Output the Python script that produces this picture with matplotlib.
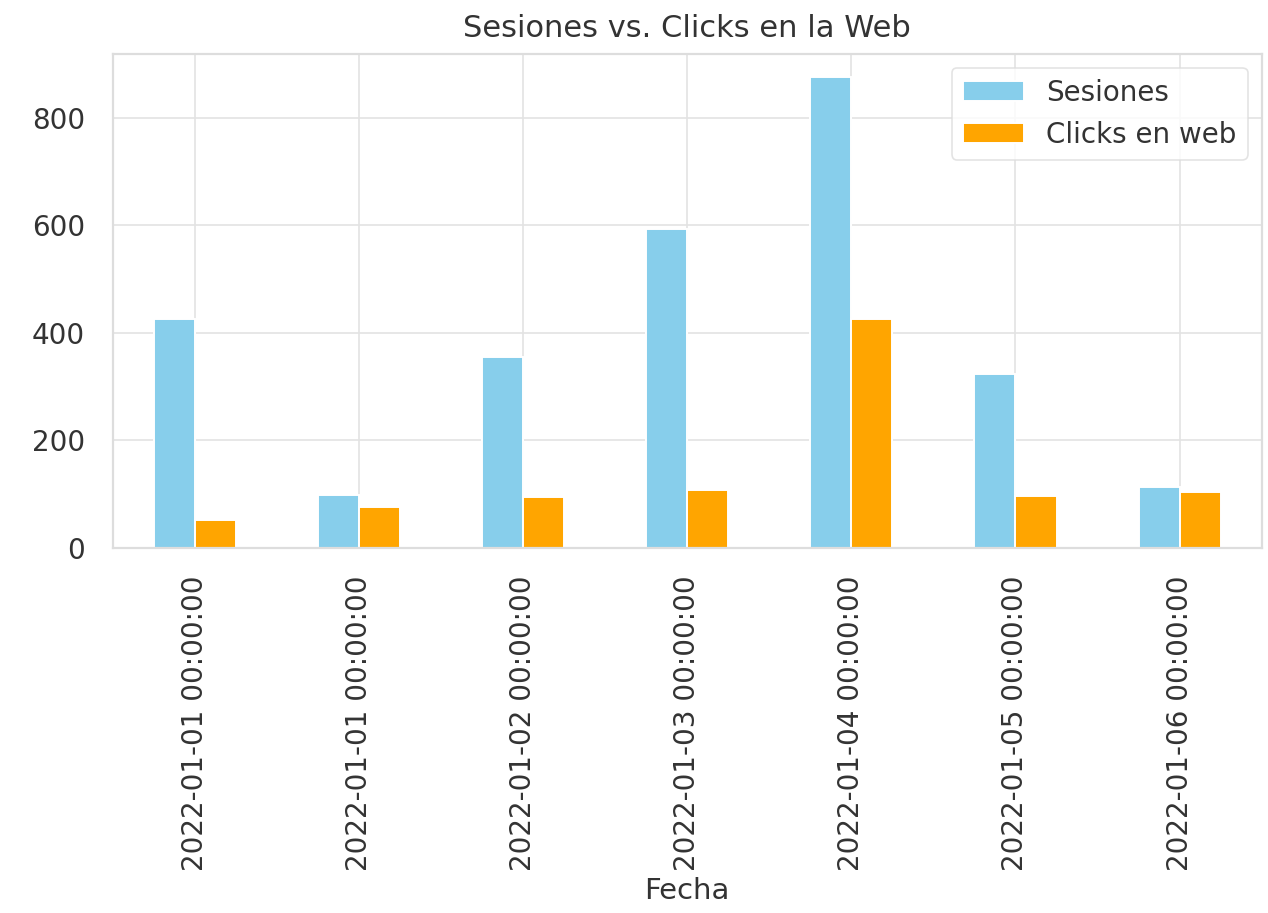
import matplotlib
matplotlib.use("Agg")
import matplotlib.pyplot as plt
import numpy as np
import seaborn as sns

sns.set_theme(style="whitegrid")
plt.rcParams['font.family'] = ['DejaVu Sans']

fechas = ["2022-01-01 00:00:00", "2022-01-01 00:00:00", "2022-01-02 00:00:00",
          "2022-01-03 00:00:00", "2022-01-04 00:00:00", "2022-01-05 00:00:00",
          "2022-01-06 00:00:00"]
sesiones = [425, 99, 354, 593, 875, 323, 113]
clicks = [52, 76, 95, 108, 425, 97, 103]

fig = plt.figure(figsize=(6.34, 4.565), dpi=200)
ax = fig.add_axes([0.089, 0.40, 0.906, 0.541])

x = np.arange(len(fechas))
w = 0.25
ax.bar(x - w / 2, sesiones, width=w, color="skyblue", edgecolor="white",
       linewidth=0.7, label="Sesiones")
ax.bar(x + w / 2, clicks, width=w, color="orange", edgecolor="white",
       linewidth=0.7, label="Clicks en web")

ax.set_xticks(x)
ax.set_xticklabels(fechas, rotation=90, fontsize=10)
ax.set_xlim(-0.5, len(fechas) - 0.5)
ax.tick_params(axis="y", labelsize=10)
ax.tick_params(axis="both", colors="#333333", pad=4)
ax.grid(True, color="#e3e3e3", linewidth=0.6)
ax.set_axisbelow(True)
for s in ax.spines.values():
    s.set_color("#dddddd")
    s.set_linewidth(0.8)
ax.set_xlabel("Fecha", fontsize=10.5, color="#333333", labelpad=2)
ax.set_title("Sesiones vs. Clicks en la Web", fontsize=11, color="#333333", pad=6)
leg = ax.legend(loc="upper right", fontsize=10, handlelength=2.2)
leg.get_frame().set_edgecolor("#dddddd")
leg.get_frame().set_linewidth(0.6)
for t in leg.get_texts():
    t.set_color("#333333")

fig.savefig("out.png", dpi=200)
